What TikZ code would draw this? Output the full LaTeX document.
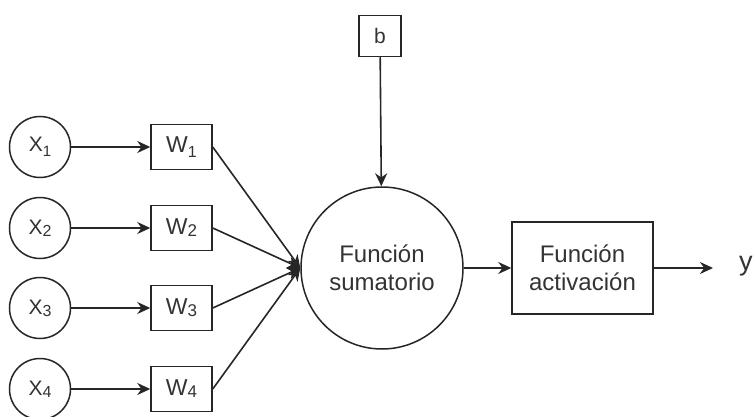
\documentclass[tikz,border=0pt]{standalone}
\usepackage{fontspec}
\setmainfont{Liberation Sans}
\usetikzlibrary{arrows.meta}
\begin{document}
\begin{tikzpicture}[x=1pt,y=-1pt,
  every node/.style={text=black!80},
  inp/.style={draw=black!85,line width=1.5pt,circle,minimum size=61pt,inner sep=0pt,font=\fontsize{21}{24}\selectfont},
  wbox/.style={draw=black!85,line width=1.5pt,rectangle,minimum width=61pt,minimum height=45pt,inner sep=0pt,font=\fontsize{23}{26}\selectfont},
  sumc/.style={draw=black!85,line width=1.5pt,circle,minimum size=162pt,inner sep=0pt,align=center,font=\fontsize{24}{28}\selectfont},
  actbox/.style={draw=black!85,line width=1.5pt,rectangle,minimum width=141pt,minimum height=92pt,inner sep=0pt,align=center,font=\fontsize{24}{28}\selectfont},
  bbox/.style={draw=black!85,line width=1.5pt,rectangle,minimum width=42pt,minimum height=41pt,inner sep=0pt,font=\fontsize{21}{24}\selectfont},
  conn/.style={draw=black!85,line width=1.6pt,-{Stealth[length=13pt,width=12pt]}}
]
\useasboundingbox (0,0) rectangle (754,417);
\node[inp] (x1) at (40,147) {X\raisebox{-5pt}{\fontsize{15}{15}\selectfont 1}};
\node[inp] (x2) at (40,228) {X\raisebox{-2pt}{\fontsize{16}{16}\selectfont 2}};
\node[inp] (x3) at (40,308) {X\raisebox{-2pt}{\fontsize{16}{16}\selectfont 3}};
\node[inp] (x4) at (40,389) {X\raisebox{-2pt}{\fontsize{16}{16}\selectfont 4}};
\node[wbox] (w1) at (181.5,147) {W\raisebox{-5pt}{\fontsize{16}{16}\selectfont 1}};
\node[wbox] (w2) at (181.5,228) {W\raisebox{-2pt}{\fontsize{17}{17}\selectfont 2}};
\node[wbox] (w3) at (181.5,308) {W\raisebox{-2pt}{\fontsize{17}{17}\selectfont 3}};
\node[wbox] (w4) at (181.5,389) {W\raisebox{-2pt}{\fontsize{17}{17}\selectfont 4}};
\node[sumc] (sum) at (382,268) {Función\\sumatorio};
\node[bbox] (b) at (380,36) {b};
\node[actbox] (act) at (582.5,268) {Función\\activación};
\coordinate (out) at (713,268);
\node[anchor=west,inner sep=0pt,font=\fontsize{27}{30}\selectfont] (y) at (739,266) {y};
\foreach \i in {1,2,3,4}{
  \draw[conn] (x\i) -- (w\i);
  \draw[conn] (w\i.east) -- (sum.west);
}
\draw[conn] (b) -- (sum);
\draw[conn] (sum) -- (act);
\draw[conn] (act) -- (out);
\end{tikzpicture}
\end{document}
